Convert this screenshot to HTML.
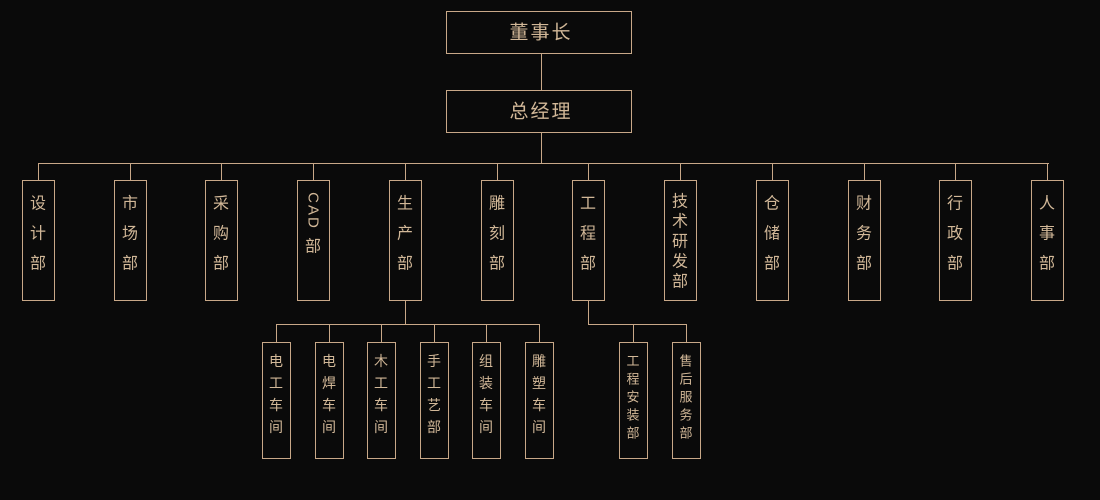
<!DOCTYPE html>
<html><head><meta charset="utf-8"><style>
html,body{margin:0;padding:0;background:#0a0a0a;}
svg{display:block;}
text{font-family:"Liberation Sans","Noto Sans CJK SC",sans-serif;fill:#d2b898;text-anchor:middle;dominant-baseline:central;}
</style></head><body>
<svg width="1100" height="500" viewBox="0 0 1100 500" xmlns="http://www.w3.org/2000/svg">
<rect width="1100" height="500" fill="#0a0a0a"/>
<g stroke="#c8a888" stroke-width="1" fill="none" shape-rendering="crispEdges">
<rect x="446.5" y="11.5" width="185" height="42"/>
<rect x="446.5" y="90.5" width="185" height="42"/>
<line x1="541.5" y1="53" x2="541.5" y2="90"/>
<line x1="541.5" y1="132" x2="541.5" y2="163"/>
<line x1="38" y1="163.5" x2="1049" y2="163.5"/>
<!-- dept boxes -->
<g id="d">
<rect x="22.5" y="180.5" width="32" height="120"/>
<rect x="114.5" y="180.5" width="32" height="120"/>
<rect x="205.5" y="180.5" width="32" height="120"/>
<rect x="297.5" y="180.5" width="32" height="120"/>
<rect x="389.5" y="180.5" width="32" height="120"/>
<rect x="481.5" y="180.5" width="32" height="120"/>
<rect x="572.5" y="180.5" width="32" height="120"/>
<rect x="664.5" y="180.5" width="32" height="120"/>
<rect x="756.5" y="180.5" width="32" height="120"/>
<rect x="848.5" y="180.5" width="32" height="120"/>
<rect x="939.5" y="180.5" width="32" height="120"/>
<rect x="1031.5" y="180.5" width="32" height="120"/>
</g>
<line x1="38.5" y1="163" x2="38.5" y2="180"/>
<line x1="130.5" y1="163" x2="130.5" y2="180"/>
<line x1="221.5" y1="163" x2="221.5" y2="180"/>
<line x1="313.5" y1="163" x2="313.5" y2="180"/>
<line x1="405.5" y1="163" x2="405.5" y2="180"/>
<line x1="497.5" y1="163" x2="497.5" y2="180"/>
<line x1="588.5" y1="163" x2="588.5" y2="180"/>
<line x1="680.5" y1="163" x2="680.5" y2="180"/>
<line x1="772.5" y1="163" x2="772.5" y2="180"/>
<line x1="864.5" y1="163" x2="864.5" y2="180"/>
<line x1="955.5" y1="163" x2="955.5" y2="180"/>
<line x1="1047.5" y1="163" x2="1047.5" y2="180"/>
<!-- production subtree -->
<line x1="405.5" y1="300" x2="405.5" y2="324"/>
<line x1="276" y1="324.5" x2="540" y2="324.5"/>
<line x1="276.5" y1="324" x2="276.5" y2="342"/>
<line x1="329.5" y1="324" x2="329.5" y2="342"/>
<line x1="381.5" y1="324" x2="381.5" y2="342"/>
<line x1="434.5" y1="324" x2="434.5" y2="342"/>
<line x1="486.5" y1="324" x2="486.5" y2="342"/>
<line x1="539.5" y1="324" x2="539.5" y2="342"/>
<rect x="262.5" y="342.5" width="28" height="116"/>
<rect x="315.5" y="342.5" width="28" height="116"/>
<rect x="367.5" y="342.5" width="28" height="116"/>
<rect x="420.5" y="342.5" width="28" height="116"/>
<rect x="472.5" y="342.5" width="28" height="116"/>
<rect x="525.5" y="342.5" width="28" height="116"/>
<!-- engineering subtree -->
<line x1="588.5" y1="300" x2="588.5" y2="324"/>
<line x1="588" y1="324.5" x2="687" y2="324.5"/>
<line x1="633.5" y1="324" x2="633.5" y2="342"/>
<line x1="686.5" y1="324" x2="686.5" y2="342"/>
<rect x="619.5" y="342.5" width="28" height="116"/>
<rect x="672.5" y="342.5" width="28" height="116"/>
</g>
<text x="541" y="33" font-size="19" letter-spacing="2">董事长</text>
<text x="541" y="112" font-size="19" letter-spacing="2">总经理</text>
<g font-size="16">
<text x="38" y="204">设</text><text x="38" y="234">计</text><text x="38" y="264">部</text>
<text x="130" y="204">市</text><text x="130" y="234">场</text><text x="130" y="264">部</text>
<text x="221" y="204">采</text><text x="221" y="234">购</text><text x="221" y="264">部</text>
<text x="313" y="211" font-size="15" letter-spacing="2" transform="rotate(90 313 211)">CAD</text><text x="313" y="247">部</text>
<text x="405" y="204">生</text><text x="405" y="234">产</text><text x="405" y="264">部</text>
<text x="497" y="204">雕</text><text x="497" y="234">刻</text><text x="497" y="264">部</text>
<text x="588" y="204">工</text><text x="588" y="234">程</text><text x="588" y="264">部</text>
<text x="680" y="202">技</text><text x="680" y="222">术</text><text x="680" y="242">研</text><text x="680" y="262">发</text><text x="680" y="282">部</text>
<text x="772" y="204">仓</text><text x="772" y="234">储</text><text x="772" y="264">部</text>
<text x="864" y="204">财</text><text x="864" y="234">务</text><text x="864" y="264">部</text>
<text x="955" y="204">行</text><text x="955" y="234">政</text><text x="955" y="264">部</text>
<text x="1047" y="204">人</text><text x="1047" y="234">事</text><text x="1047" y="264">部</text>
</g>
<g font-size="14">
<text x="276" y="361">电</text><text x="276" y="383">工</text><text x="276" y="405">车</text><text x="276" y="427">间</text>
<text x="329" y="361">电</text><text x="329" y="383">焊</text><text x="329" y="405">车</text><text x="329" y="427">间</text>
<text x="381" y="361">木</text><text x="381" y="383">工</text><text x="381" y="405">车</text><text x="381" y="427">间</text>
<text x="434" y="361">手</text><text x="434" y="383">工</text><text x="434" y="405">艺</text><text x="434" y="427">部</text>
<text x="486" y="361">组</text><text x="486" y="383">装</text><text x="486" y="405">车</text><text x="486" y="427">间</text>
<text x="539" y="361">雕</text><text x="539" y="383">塑</text><text x="539" y="405">车</text><text x="539" y="427">间</text>
</g>
<g font-size="13">
<text x="633" y="361">工</text><text x="633" y="379">程</text><text x="633" y="397">安</text><text x="633" y="415">装</text><text x="633" y="433">部</text>
<text x="686" y="361">售</text><text x="686" y="379">后</text><text x="686" y="397">服</text><text x="686" y="415">务</text><text x="686" y="433">部</text>
</g>
</svg>
</body></html>
